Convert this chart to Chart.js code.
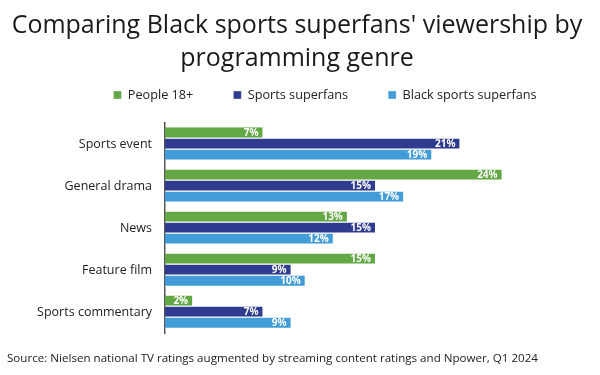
<!DOCTYPE html>
<html>
<head>
<meta charset="utf-8">
<script src="https://cdn.jsdelivr.net/npm/chart.js@4.4.1/dist/chart.umd.min.js"></script>
<style>
html,body{margin:0;padding:0;background:#fff;}
#wrap{width:600px;height:375px;}
</style>
</head>
<body>
<div id="wrap"><canvas id="c" width="600" height="375"></canvas></div>
<script>
const categories = ["Sports event", "General drama", "News", "Feature film", "Sports commentary"];
const people18 = [7, 24, 13, 15, 2];
const sportsSuperfans = [21, 15, 15, 9, 7];
const blackSportsSuperfans = [19, 17, 12, 10, 9];
const seriesNames = ["People 18+", "Sports superfans", "Black sports superfans"];
const titleLines = ["Comparing Black sports superfans' viewership by", "programming genre"];
const sourceText = "Source: Nielsen national TV ratings augmented by streaming content ratings and Npower, Q1 2024";

const FONT = "'Open Sans', sans-serif";

const labelPlugin = {
  id: 'barLabels',
  afterDatasetsDraw(chart) {
    const ctx = chart.ctx;
    ctx.save();
    ctx.font = "bold 10px " + FONT;
    ctx.fillStyle = '#ffffff';
    ctx.textAlign = 'right';
    ctx.textBaseline = 'middle';
    chart.data.datasets.forEach((ds, i) => {
      const meta = chart.getDatasetMeta(i);
      meta.data.forEach((bar, j) => {
        ctx.fillText(ds.data[j] + '%', bar.x - 5, bar.y);
      });
    });
    ctx.restore();
  }
};

const legendTweak = {
  id: 'legendTweak',
  beforeInit(chart) {
    const lg = chart.legend;
    if (!lg) return;
    const origFit = lg.fit;
    lg.fit = function() {
      origFit.call(this);
      this.height += 11.6;
    };
    const origDraw = lg.draw;
    lg.draw = function() {
      const ctx = this.ctx;
      ctx.save();
      ctx.translate(28, 0);
      origDraw.call(this);
      ctx.restore();
    };
  }
};

const barBorder = {top: 0, right: 1, bottom: 1, left: 0};

new Chart(document.getElementById('c'), {
  type: 'bar',
  data: {
    labels: categories,
    datasets: [
      {label: seriesNames[0], data: people18, backgroundColor: '#63a845', borderColor: 'rgba(255,255,255,0.7)', borderWidth: barBorder, borderSkipped: false},
      {label: seriesNames[1], data: sportsSuperfans, backgroundColor: '#2f3b8e', borderColor: 'rgba(255,255,255,0.7)', borderWidth: barBorder, borderSkipped: false},
      {label: seriesNames[2], data: blackSportsSuperfans, backgroundColor: '#429cd7', borderColor: 'rgba(255,255,255,0.7)', borderWidth: barBorder, borderSkipped: false}
    ]
  },
  options: {
    indexAxis: 'y',
    responsive: false,
    animation: false,
    devicePixelRatio: 1,
    layout: {padding: {left: 7, right: 13, top: 0, bottom: 0}},
    datasets: {bar: {categoryPercentage: 0.79, barPercentage: 1.0}},
    scales: {
      x: {
        display: false,
        min: 0,
        max: 30
      },
      y: {
        grid: {display: false, drawTicks: false},
        border: {display: true, color: '#555555', width: 1.5},
        ticks: {color: '#222222', font: {family: FONT, size: 12.5}, padding: 13},
        afterFit(scale) { scale.width = 158; }
      }
    },
    plugins: {
      title: {
        display: true,
        text: titleLines,
        color: '#1a1a1a',
        font: {family: FONT, size: 25, weight: 'normal', lineHeight: 1.32},
        padding: {top: 9, bottom: -26.35}
      },
      subtitle: {
        display: true,
        position: 'bottom',
        align: 'start',
        text: sourceText,
        color: '#222222',
        font: {family: FONT, size: 11.6, weight: 'normal', lineHeight: 1.2},
        padding: {top: 19, bottom: 9}
      },
      legend: {
        display: true,
        position: 'top',
        labels: {
          boxWidth: 8,
          boxHeight: 8,
          color: '#222222',
          font: {family: FONT, size: 12.7},
          padding: 40
        }
      },
      tooltip: {enabled: false}
    }
  },
  plugins: [labelPlugin, legendTweak]
});
</script>
</body>
</html>
